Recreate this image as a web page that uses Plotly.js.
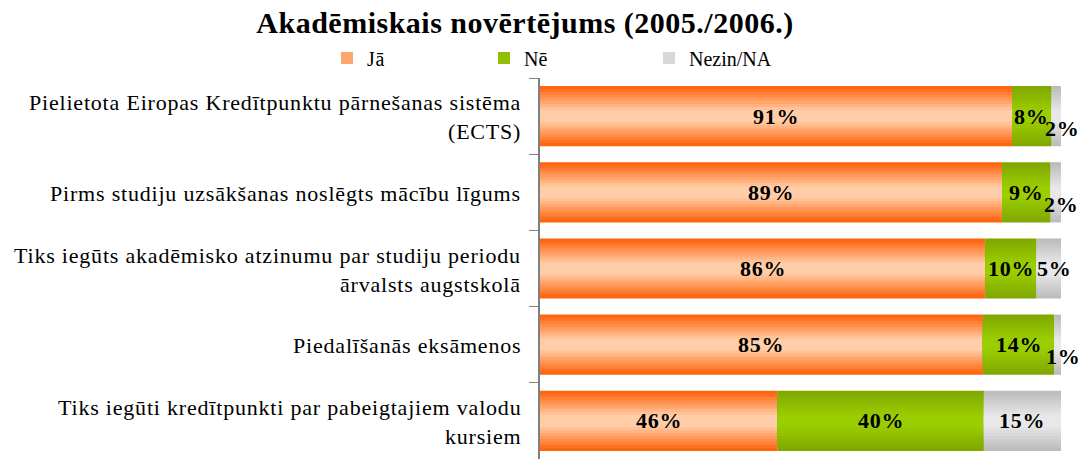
<!DOCTYPE html>
<html>
<head>
<meta charset="utf-8">
<script src="https://cdn.plot.ly/plotly-3.0.1.min.js"></script>
<style>
html,body{margin:0;padding:0;background:#fff;}
#chart{width:1084px;height:459px;}
.annotation-text{letter-spacing:0.8px;}
.gtitle{letter-spacing:0.5px;}
.legendtext{letter-spacing:0.8px;}
</style>
</head>
<body>
<div id="chart"></div>
<script>
// ---- data ----
const categories = [
  "Pielietota Eiropas Kredītpunktu pārnešanas sistēma<br>(ECTS)",
  "Pirms studiju uzsākšanas noslēgts mācību līgums",
  "Tiks iegūts akadēmisko atzinumu par studiju periodu<br>ārvalsts augstskolā",
  "Piedalīšanās eksāmenos",
  "Tiks iegūti kredītpunkti par pabeigtajiem valodu<br>kursiem"
];
const seriesNames = ["Jā", "Nē", "Nezin/NA"];
const ja = [90.6, 88.7, 85.5, 85.0, 45.6];
const ne = [7.6, 9.3, 9.8, 13.7, 39.6];
const nezin = [1.8, 2.0, 4.7, 1.3, 14.8];
const titleText = "Akadēmiskais novērtējums (2005./2006.)";

// ---- style ----
const seriesData = [ja, ne, nezin];
const edgeColors = [[255, 100, 15], [128, 168, 0], [188, 188, 188]];
const centerColors = [[255, 206, 168], [155, 206, 0], [232, 232, 232]];
const legendX = [327, 484, 649];
const N = 10;
const barW = 0.79;
const serif = "Liberation Serif, Times New Roman, serif";

function mix(a, b, t) {
  return "rgb(" + a.map((v, i) => Math.round(v + (b[i] - v) * t)).join(",") + ")";
}

const traces = [];
const annotations = [];
const bases = categories.map(() => 0);
seriesData.forEach((vals, s) => {
  const base = bases.slice();
  const legendId = s === 0 ? "legend" : "legend" + (s + 1);
  for (let k = 0; k < N; k++) {
    traces.push({
      type: "bar",
      orientation: "h",
      y: categories,
      x: vals,
      base: base,
      width: barW * (1 - k / N),
      name: seriesNames[s],
      legend: legendId,
      showlegend: k === Math.floor(N / 2),
      marker: { color: mix(edgeColors[s], centerColors[s], Math.min(1, k / (N - 2))), line: { width: 0 } },
      hoverinfo: "skip"
    });
  }
  vals.forEach((v, i) => {
    annotations.push({
      xref: "x", yref: "y",
      x: base[i] + v / 2, y: categories[i],
      text: Math.round(v) + "%",
      showarrow: false,
      yshift: v < 3 ? -12 : 0,
      xshift: v < 6 ? 6 : 0,
      font: { family: serif, size: 22, color: "#000", weight: "bold" }
    });
    bases[i] += v;
  });
});

// category labels: each line centered within the label block, block right-aligned
categories.forEach((c) => {
  const lines = c.split("<br>");
  lines.forEach((ln, j) => {
    annotations.push({
      xref: "paper", yref: "y",
      x: 0, y: c,
      xanchor: "right", xshift: -17,
      yshift: (lines.length - 1) * 14.5 - j * 29 - 1,
      text: ln,
      showarrow: false,
      align: "center",
      font: { family: serif, size: 22, color: "#000" }
    });
  });
});

function legendBox(i) {
  return {
    orientation: "h",
    xref: "container", yref: "container",
    x: legendX[i] / 1084, xanchor: "left",
    y: 1 - 58 / 459, yanchor: "middle",
    font: { family: serif, size: 20, color: "#000" },
    bgcolor: "rgba(0,0,0,0)",
    itemclick: false
  };
}

const layout = {
  width: 1084, height: 459,
  margin: { l: 540, r: 23, t: 78, b: 0 },
  paper_bgcolor: "#fff", plot_bgcolor: "#fff",
  barmode: "overlay",
  title: {
    text: "<b>" + titleText + "</b>",
    x: 525 / 1084, xref: "container", xanchor: "center",
    y: 1 - 22 / 459, yref: "container", yanchor: "middle",
    font: { family: serif, size: 30, color: "#000" }
  },
  showlegend: true,
  legend: legendBox(0),
  legend2: legendBox(1),
  legend3: legendBox(2),
  xaxis: {
    range: [0, 100], visible: false, fixedrange: true
  },
  yaxis: {
    type: "category",
    autorange: "reversed",
    showticklabels: false,
    showline: true, linecolor: "#7f7f7f", linewidth: 2,
    ticks: "outside", tickson: "boundaries", ticklen: 9, tickcolor: "#7f7f7f", tickwidth: 1,
    showgrid: false, zeroline: false, fixedrange: true
  },
  annotations: annotations
};
Plotly.newPlot("chart", traces, layout, { displayModeBar: false, staticPlot: true });
</script>
</body>
</html>
